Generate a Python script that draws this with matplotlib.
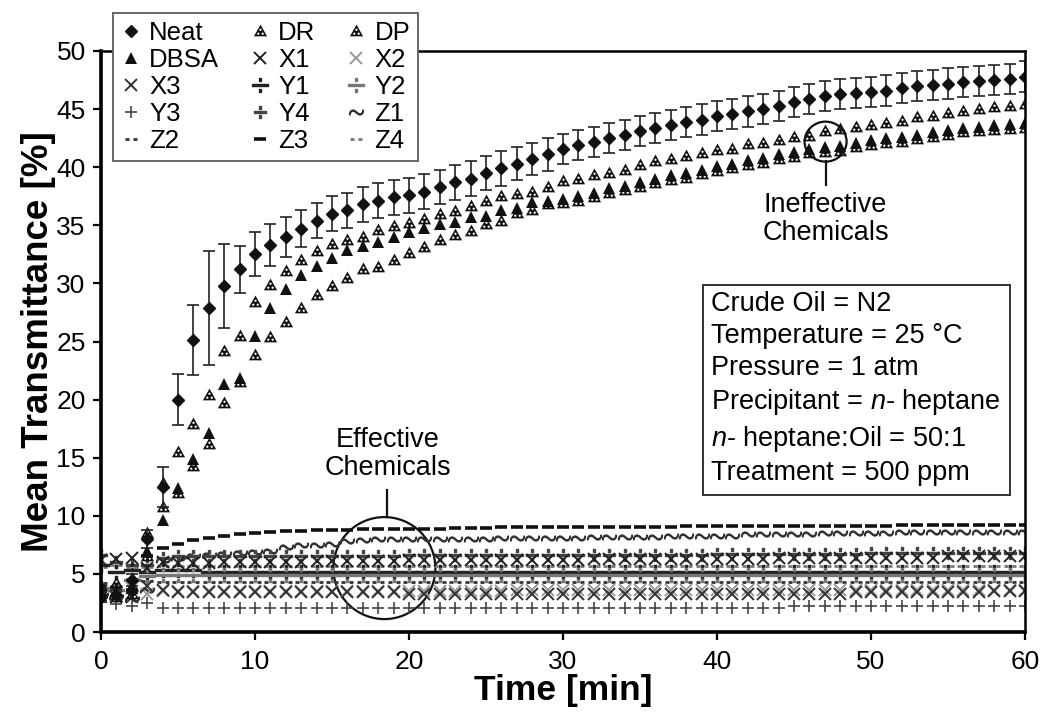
import matplotlib
matplotlib.use("Agg")
import matplotlib.pyplot as plt
import numpy as np
from matplotlib.path import Path
from matplotlib.patches import Ellipse, Rectangle
from matplotlib.lines import Line2D

plt.rcParams['font.family'] = ['Liberation Sans', 'DejaVu Sans']
plt.rcParams['mathtext.fontset'] = 'custom'
plt.rcParams['mathtext.rm'] = 'Liberation Sans'
plt.rcParams['mathtext.it'] = 'Liberation Sans:italic'
plt.rcParams['mathtext.bf'] = 'Liberation Sans:bold'

# ---------------- data ----------------
time_min = list(range(0, 61))

neat = [3.0, 3.2, 4.5, 8.0, 12.5, 20.0, 25.1, 27.9, 29.8, 31.2, 32.5, 33.3, 34.0, 34.7, 35.4,
        36.0, 36.3, 36.8, 37.1, 37.4, 37.6, 37.9, 38.3, 38.7, 39.0, 39.5, 39.9, 40.3, 40.7, 41.1,
        41.6, 41.9, 42.2, 42.5, 42.8, 43.1, 43.4, 43.6, 43.9, 44.1, 44.4, 44.6, 44.8, 45.0, 45.3,
        45.6, 45.9, 46.1, 46.3, 46.4, 46.5, 46.6, 46.8, 47.0, 47.1, 47.2, 47.3, 47.4, 47.5, 47.6, 47.8]
neat_err = [0.4, 0.4, 0.5, 0.8, 1.7, 2.2, 3.0, 4.9, 3.6, 2.0, 1.9, 1.8, 1.7, 1.6, 1.5,
            1.5, 1.5, 1.5, 1.5, 1.5, 1.5, 1.5, 1.5, 1.5, 1.5, 1.5, 1.5, 1.4, 1.4, 1.4,
            1.3, 1.3, 1.3, 1.3, 1.3, 1.3, 1.3, 1.3, 1.3, 1.3, 1.3, 1.3, 1.3, 1.3, 1.3,
            1.3, 1.3, 1.3, 1.3, 1.3, 1.3, 1.3, 1.3, 1.3, 1.3, 1.3, 1.3, 1.3, 1.3, 1.3, 1.3]
dr = [3.5, 3.0, 3.3, 8.5, 12.8, 15.5, 17.9, 20.4, 24.2, 25.5, 28.4, 29.9, 31.1, 32.0, 32.8,
      33.4, 33.7, 34.0, 34.6, 34.9, 35.2, 35.5, 36.0, 36.2, 36.7, 37.1, 37.5, 37.7, 37.9, 38.3,
      38.8, 39.0, 39.3, 39.5, 39.8, 40.2, 40.5, 40.7, 41.0, 41.2, 41.5, 41.6, 42.0, 42.1, 42.3,
      42.6, 42.7, 43.1, 43.3, 43.5, 43.6, 43.8, 44.0, 44.3, 44.4, 44.7, 44.8, 45.0, 45.2, 45.3, 45.4]
dbsa = [3.2, 3.5, 3.8, 7.0, 9.6, 12.4, 14.9, 17.1, 21.3, 21.9, 25.5, 27.9, 29.5, 30.7, 31.5,
        32.2, 32.9, 33.2, 33.6, 34.0, 34.4, 34.8, 35.1, 35.3, 35.7, 35.8, 36.3, 36.5, 37.0, 37.1,
        37.3, 37.5, 37.8, 38.2, 38.4, 38.7, 39.0, 39.3, 39.5, 39.8, 40.1, 40.3, 40.6, 40.8, 41.1,
        41.3, 41.6, 41.75, 41.8, 42.1, 42.3, 42.55, 42.6, 42.8, 43.0, 43.2, 43.4, 43.5, 43.6, 43.7, 43.8]
dp = [4.0, 4.2, 4.0, 6.5, 10.8, 12.0, 14.3, 16.2, 19.7, 21.5, 23.8, 25.4, 26.7, 27.9, 29.0,
      29.8, 30.5, 31.2, 31.4, 32.0, 32.6, 33.1, 33.7, 34.2, 34.5, 35.1, 35.4, 36.1, 36.3, 36.8,
      36.9, 37.1, 37.4, 37.8, 38.0, 38.3, 38.6, 38.9, 39.1, 39.4, 39.7, 39.9, 40.2, 40.4, 40.7,
      40.9, 41.2, 41.3, 41.4, 41.7, 41.9, 42.1, 42.2, 42.4, 42.6, 42.8, 43.0, 43.1, 43.2, 43.3, 43.4]

x1 = [6.2, 6.3, 6.4, 5.5, 6.0, 5.9, 5.9, 5.9, 6.0, 6.0, 6.0, 6.0, 6.0, 6.0, 6.1,
      6.1, 6.1, 6.1, 6.1, 6.1, 6.2, 6.2, 6.2, 6.2, 6.2, 6.2, 6.2, 6.2, 6.2, 6.2,
      6.2, 6.2, 6.3, 6.3, 6.3, 6.3, 6.3, 6.3, 6.3, 6.3, 6.3, 6.3, 6.3, 6.3, 6.4,
      6.4, 6.4, 6.4, 6.4, 6.4, 6.4, 6.4, 6.4, 6.4, 6.4, 6.5, 6.5, 6.5, 6.5, 6.5, 6.5]
x2 = [3.0, 3.2, 3.8, 3.3, 3.5, 3.5, 3.5, 3.5, 3.5, 3.5, 3.5, 3.5, 3.5, 3.5, 3.5,
      3.5, 3.5, 3.5, 3.5, 3.5, 3.5, 3.5, 3.5, 3.5, 3.5, 3.5, 3.5, 3.6, 3.6, 3.6,
      3.6, 3.6, 3.6, 3.6, 3.6, 3.6, 3.6, 3.6, 3.6, 3.6, 3.6, 3.6, 3.6, 3.6, 3.6,
      3.6, 3.6, 3.6, 3.6, 3.6, 3.6, 3.6, 3.6, 3.6, 3.6, 3.6, 3.6, 3.6, 3.6, 3.6, 3.6]
x3 = [3.5, 3.0, 3.0, 4.0, 3.6, 3.4, 3.4, 3.4, 3.4, 3.4, 3.4, 3.4, 3.4, 3.4, 3.4,
      3.4, 3.4, 3.4, 3.4, 3.4, 3.3, 3.3, 3.3, 3.3, 3.3, 3.3, 3.3, 3.3, 3.3, 3.3,
      3.3, 3.3, 3.3, 3.3, 3.3, 3.3, 3.3, 3.3, 3.3, 3.3, 3.3, 3.3, 3.3, 3.3, 3.3,
      3.3, 3.3, 3.3, 3.3, 3.4, 3.4, 3.4, 3.4, 3.4, 3.4, 3.4, 3.4, 3.4, 3.5, 3.5, 3.5]
y1 = [5.8, 5.2, 5.3, 5.2, 5.3, 5.3, 5.3, 5.2, 5.2, 5.2, 5.2, 5.2, 5.2, 5.2, 5.2,
      5.2, 5.2, 5.2, 5.2, 5.2, 5.2, 5.2, 5.2, 5.2, 5.2, 5.2, 5.2, 5.2, 5.2, 5.2,
      5.2, 5.2, 5.2, 5.2, 5.2, 5.2, 5.2, 5.2, 5.2, 5.2, 5.2, 5.2, 5.2, 5.2, 5.2,
      5.2, 5.2, 5.2, 5.2, 5.2, 5.2, 5.2, 5.2, 5.2, 5.2, 5.2, 5.2, 5.2, 5.2, 5.2, 5.2]
y2 = [3.8, 3.6, 4.5, 4.8, 4.9, 4.9, 4.9, 4.9, 4.9, 4.9, 4.9, 4.9, 4.9, 4.9, 4.9,
      4.9, 4.9, 4.9, 4.9, 4.9, 4.9, 4.9, 4.9, 4.9, 4.9, 4.9, 4.9, 4.9, 4.9, 4.9,
      4.9, 4.9, 4.9, 4.9, 4.9, 4.9, 4.9, 4.9, 4.9, 4.9, 4.9, 4.9, 4.9, 4.9, 4.9,
      4.9, 4.9, 4.9, 4.9, 4.9, 4.9, 4.9, 4.9, 4.9, 4.9, 4.9, 4.9, 4.9, 4.9, 4.9, 4.9]
y3 = [2.6, 2.4, 2.2, 2.5, 2.1, 2.1, 2.1, 2.1, 2.1, 2.1, 2.1, 2.1, 2.1, 2.1, 2.1,
      2.1, 2.1, 2.1, 2.1, 2.1, 2.1, 2.1, 2.1, 2.1, 2.1, 2.1, 2.1, 2.1, 2.1, 2.1,
      2.1, 2.1, 2.1, 2.1, 2.1, 2.1, 2.1, 2.1, 2.1, 2.1, 2.1, 2.1, 2.1, 2.1, 2.1,
      2.2, 2.2, 2.2, 2.2, 2.2, 2.2, 2.2, 2.2, 2.2, 2.2, 2.2, 2.2, 2.2, 2.2, 2.2, 2.2]
y4 = [6.6, 6.0, 5.8, 5.8, 6.4, 6.5, 6.5, 6.5, 6.5, 6.5, 6.5, 6.5, 6.5, 6.5, 6.5,
      6.5, 6.5, 6.5, 6.5, 6.5, 6.6, 6.6, 6.6, 6.6, 6.6, 6.6, 6.6, 6.6, 6.6, 6.6,
      6.6, 6.6, 6.6, 6.6, 6.6, 6.6, 6.6, 6.6, 6.6, 6.6, 6.7, 6.7, 6.7, 6.7, 6.7,
      6.7, 6.7, 6.7, 6.7, 6.7, 6.8, 6.8, 6.8, 6.8, 6.8, 6.8, 6.8, 6.8, 6.8, 6.8, 6.8]
z1 = [3.2, 3.0, 2.8, 3.6, 6.2, 6.4, 6.5, 6.6, 6.7, 6.8, 6.9, 7.0, 7.3, 7.5, 7.5,
      7.6, 7.8, 7.9, 8.0, 8.0, 8.0, 8.0, 8.0, 8.0, 8.0, 8.0, 8.1, 8.1, 8.1, 8.1,
      8.1, 8.1, 8.2, 8.2, 8.2, 8.2, 8.2, 8.3, 8.3, 8.3, 8.3, 8.3, 8.4, 8.4, 8.4,
      8.4, 8.4, 8.5, 8.5, 8.5, 8.5, 8.5, 8.6, 8.6, 8.6, 8.6, 8.6, 8.6, 8.6, 8.6, 8.6]
z2 = [4.2, 4.0, 4.6, 4.4, 4.3, 4.3, 4.3, 4.3, 4.3, 4.3, 4.3, 4.3, 4.3, 4.3, 4.3,
      4.3, 4.3, 4.3, 4.3, 4.3, 4.3, 4.3, 4.3, 4.3, 4.3, 4.3, 4.3, 4.3, 4.3, 4.3,
      4.3, 4.3, 4.3, 4.3, 4.3, 4.3, 4.3, 4.3, 4.3, 4.3, 4.3, 4.3, 4.3, 4.3, 4.3,
      4.3, 4.3, 4.3, 4.3, 4.3, 4.3, 4.3, 4.3, 4.3, 4.3, 4.3, 4.3, 4.3, 4.3, 4.3, 4.3]
z3 = [4.0, 3.8, 3.6, 6.5, 7.2, 7.6, 7.9, 8.1, 8.3, 8.4, 8.5, 8.6, 8.7, 8.7, 8.75,
      8.8, 8.8, 8.85, 8.9, 8.9, 8.9, 8.9, 8.9, 8.95, 8.95, 8.95, 9.0, 9.0, 9.0, 9.0,
      9.0, 9.0, 9.0, 9.05, 9.05, 9.05, 9.05, 9.05, 9.1, 9.1, 9.1, 9.1, 9.1, 9.1, 9.1,
      9.1, 9.15, 9.15, 9.15, 9.15, 9.15, 9.15, 9.2, 9.2, 9.2, 9.2, 9.2, 9.2, 9.2, 9.2, 9.2]
z4 = [5.6, 5.8, 5.6, 5.6, 5.7, 5.7, 5.7, 5.7, 5.7, 5.7, 5.7, 5.7, 5.7, 5.7, 5.7,
      5.7, 5.7, 5.7, 5.7, 5.7, 5.7, 5.7, 5.7, 5.7, 5.7, 5.7, 5.7, 5.7, 5.7, 5.7,
      5.7, 5.7, 5.7, 5.7, 5.7, 5.7, 5.7, 5.7, 5.7, 5.7, 5.7, 5.7, 5.7, 5.7, 5.7,
      5.7, 5.7, 5.7, 5.7, 5.7, 5.7, 5.7, 5.7, 5.7, 5.7, 5.7, 5.7, 5.7, 5.7, 5.7, 5.7]

x_ticks = [0, 10, 20, 30, 40, 50, 60]
y_ticks = [0, 5, 10, 15, 20, 25, 30, 35, 40, 45, 50]
info_lines = ["Crude Oil = N2", "Temperature = 25 °C", "Pressure = 1 atm",
              r"Precipitant = $\it{n}$- heptane", r"$\it{n}$- heptane:Oil = 50:1",
              "Treatment = 500 ppm"]

# ---------------- markers ----------------
def hatched_triangle():
    outer = [(0.0, 1.0), (-0.95, -0.7), (0.95, -0.7), (0.0, 1.0)]
    verts = list(outer)
    codes = [Path.MOVETO, Path.LINETO, Path.LINETO, Path.CLOSEPOLY]
    for (cx, cy) in [(0.0, 0.25), (-0.32, -0.32), (0.32, -0.32)]:
        r = 0.17
        angs = np.linspace(0, -2 * np.pi, 9)[:-1]
        pts = [(cx + r * np.cos(a), cy + r * np.sin(a)) for a in angs]
        verts += pts + [pts[0]]
        codes += [Path.MOVETO] + [Path.LINETO] * (len(pts) - 1) + [Path.CLOSEPOLY]
    return Path(verts, codes)

tri_h = hatched_triangle()
two_dots = Path([(-0.6, 0), (-0.2, 0), (0.2, 0), (0.6, 0)],
                [Path.MOVETO, Path.LINETO, Path.MOVETO, Path.LINETO])

fig = plt.figure(figsize=(10.41, 7.19), dpi=100)
ax = fig.add_axes([101 / 1041, 1 - 632 / 719, (1025 - 101) / 1041, (632 - 51) / 719])

t = time_min
h = {}
# effective chemicals (drawn first)
h['Z3'], = ax.plot(t, z3, ls='none', marker='_', ms=8, mew=2.6, color='#111111', label='Z3')
h['Z1'], = ax.plot(t, z1, ls='none', marker=r'$\sim$', ms=10, color='#333333', label='Z1')
h['Z4'], = ax.plot(t, z4, ls='none', marker=two_dots, ms=8, mew=2.0, color='#777777', label='Z4')
h['Z2'], = ax.plot(t, z2, ls='none', marker=two_dots, ms=8, mew=2.0, color='#333333', label='Z2')
h['Y4'], = ax.plot(t, y4, ls='none', marker=r'$\div$', ms=9, color='#444444', label='Y4')
h['Y1'], = ax.plot(t, y1, ls='none', marker=r'$\div$', ms=11, color='#222222', label='Y1')
h['Y2'], = ax.plot(t, y2, ls='none', marker=r'$\div$', ms=11, color='#777777', label='Y2')
h['Y3'], = ax.plot(t, y3, ls='none', marker='+', ms=9, mew=1.2, color='#444444', label='Y3')
h['X1'], = ax.plot(t, x1, ls='none', marker='x', ms=9, mew=1.4, color='#222222', label='X1')
h['X2'], = ax.plot(t, x2, ls='none', marker='x', ms=9, mew=1.4, color='#999999', label='X2')
h['X3'], = ax.plot(t, x3, ls='none', marker='x', ms=9, mew=1.4, color='#333333', label='X3')

# ineffective chemicals
h['DP'], = ax.plot(t, dp, ls='none', marker=tri_h, ms=10, color='#111111', mew=0, label='DP')
h['DBSA'], = ax.plot(t, dbsa, ls='none', marker='^', ms=9, color='#111111', mew=0, label='DBSA')
h['DR'], = ax.plot(t, dr, ls='none', marker=tri_h, ms=10, color='#111111', mew=0, label='DR')
ax.errorbar(t, neat, yerr=neat_err, fmt='D', ms=6.5, color='#111111', ecolor='#222222',
            elinewidth=1.2, capsize=4, capthick=1.2)
h['Neat'] = Line2D([], [], ls='none', marker='D', ms=6.5, color='#111111')

ax.set_xlim(0, 60)
ax.set_ylim(0, 50)
ax.set_xticks(x_ticks)
ax.set_yticks(y_ticks)
ax.tick_params(axis='both', direction='out', length=6, width=1.6, labelsize=19, pad=5)
ax.tick_params(axis='x', pad=7)
for s in ['left', 'bottom']:
    ax.spines[s].set_linewidth(2.6)
for s in ['top', 'right']:
    ax.spines[s].set_linewidth(1.8)
ax.set_xlabel('Time [min]', fontsize=25.5, fontweight='bold', labelpad=0)
ax.set_ylabel('Mean Transmittance [%]', fontsize=26.5, fontweight='bold', labelpad=0)

# legend (row-wise order in 3 columns)
order = ['Neat', 'DBSA', 'X3', 'Y3', 'Z2',
         'DR', 'X1', 'Y1', 'Y4', 'Z3',
         'DP', 'X2', 'Y2', 'Z1', 'Z4']
leg = fig.legend([h[k] for k in order], order, loc='upper left', ncol=3,
                 bbox_to_anchor=(113 / 1041, 1 - 13 / 719), bbox_transform=fig.transFigure,
                 fontsize=18.5, frameon=True, fancybox=False, framealpha=1,
                 edgecolor='#666666', handlelength=0.8, handletextpad=0.3,
                 columnspacing=1.2, labelspacing=0.12, borderpad=0.3, borderaxespad=0)
leg.get_frame().set_linewidth(1.4)

# annotations
sx = (1025 - 101) / 60.0
sy = (632 - 51) / 50.0
ax.add_patch(Ellipse((18.4, 5.5), 102 / sx, 102 / sy, fill=False, lw=1.6, ec='#111111'))
ax.plot([18.6, 18.6], [9.9, 12.2], color='#111111', lw=1.6)
ax.text(18.6, 15.3, 'Effective\nChemicals', ha='center', va='center', fontsize=19.5,
        linespacing=1.1)
ax.add_patch(Ellipse((47.05, 42.2), 42 / sx, 40 / sy, fill=False, lw=1.6, ec='#111111'))
ax.plot([47.05, 47.05], [38.5, 40.5], color='#111111', lw=1.6)
ax.text(47.05, 35.5, 'Ineffective\nChemicals', ha='center', va='center', fontsize=19.5,
        linespacing=1.1)

# information box
ax.add_patch(Rectangle((39.1, 11.8), 19.95, 18.05, fc='white', ec='#333333', lw=1.4, zorder=4))
ax.text(39.6, 20.95, "\n".join(info_lines), ha='left', va='center', fontsize=19.5,
        linespacing=1.29, zorder=5)

fig.savefig('out.png', dpi=100)
